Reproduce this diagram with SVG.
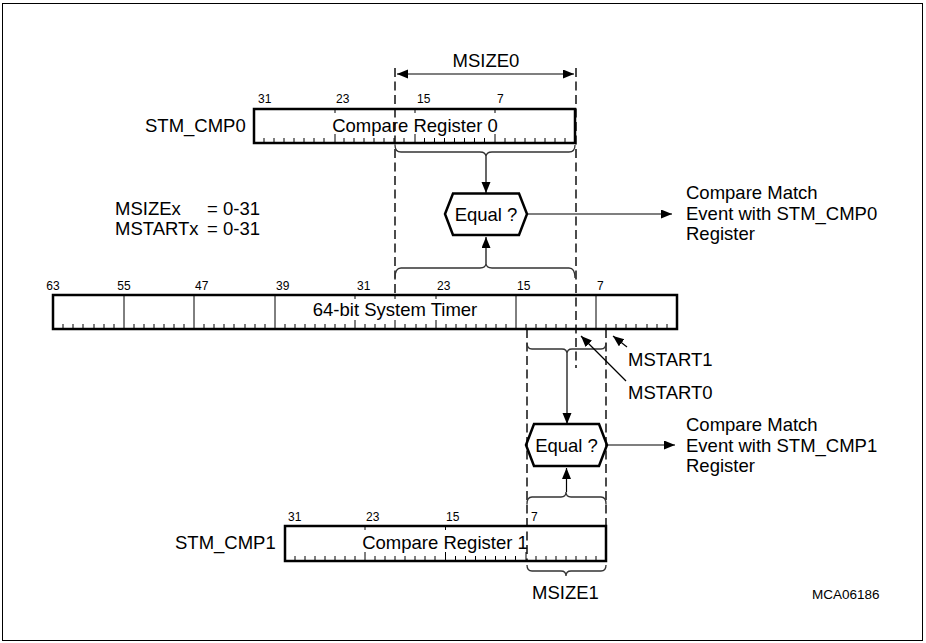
<svg xmlns="http://www.w3.org/2000/svg" width="926" height="643" viewBox="0 0 926 643">
<defs>
<style>
text{font-family:"Liberation Sans",Arial,sans-serif;fill:#000}
.t{font-size:18.5px}
.b{font-size:12px}
.s{font-size:13.5px}
.box{fill:#fff;stroke:#000;stroke-width:2.5}
.thin{fill:none;stroke:#000;stroke-width:1}
.tick{fill:none;stroke:#000;stroke-width:1}
.dash{fill:none;stroke:#000;stroke-width:1.4;stroke-dasharray:9 4.5}
.brace{fill:none;stroke:#333;stroke-width:1.3}
.hex{fill:#fff;stroke:#000;stroke-width:2.5}
.line{fill:none;stroke:#000;stroke-width:1.2}
</style>
<marker id="ah" markerUnits="userSpaceOnUse" markerWidth="12" markerHeight="10" refX="11" refY="4.5" orient="auto-start-reverse">
<path d="M0,0 L11,4.5 L0,9 Z" fill="#000"/>
</marker>
</defs>
<rect id="frame" x="2.5" y="3.5" width="920" height="637" fill="none" stroke="#000" stroke-width="1"/>

<g id="stm_cmp0">
<rect class="box" x="254" y="109" width="321" height="34"/>
<path class="tick" d="M264,143v-5M274,143v-5M284,143v-5M294,143v-5M304,143v-5M314,143v-5M324,143v-5M344,143v-5M354,143v-5M364,143v-5M374,143v-5M384,143v-5M394,143v-5M404,143v-5M424.5,143v-5M434.5,143v-5M444.5,143v-5M454.5,143v-5M464.5,143v-5M474.5,143v-5M484.5,143v-5M505,143v-5M515,143v-5M525,143v-5M535,143v-5M545,143v-5M555,143v-5M565,143v-5"/>
<path class="tick" d="M335,109v4M335,143v-9M415,109v4M415,143v-9M495,109v4M495,143v-9"/>
<text class="b" x="258" y="103">31</text>
<text class="b" x="336" y="103">23</text>
<text class="b" x="417" y="103">15</text>
<text class="b" x="497" y="103">7</text>
<text class="t" x="415" y="132" text-anchor="middle">Compare Register 0</text>
<text class="t" x="145" y="132">STM_CMP0</text>
</g>

<g id="timer">
<rect class="box" x="53" y="295" width="624" height="34"/>
<path class="thin" d="M124,295V329M194,295V329M275,295V329M516,295V329M596,295V329"/>
<path class="tick" d="M63,329v-5M73,329v-5M83,329v-5M94,329v-5M104,329v-5M114,329v-5M134,329v-5M144,329v-5M154,329v-5M164,329v-5M174,329v-5M184,329v-5M204,329v-5M214,329v-5M224,329v-5M234,329v-5M245,329v-5M255,329v-5M265,329v-5M285,329v-5M295,329v-5M305,329v-5M315,329v-5M325,329v-5M335,329v-5M345,329v-5M365,329v-5M375,329v-5M385,329v-5M405,329v-5M416,329v-5M426,329v-5M446,329v-5M456,329v-5M466,329v-5M476,329v-5M486,329v-5M496,329v-5M506,329v-5M526,329v-5M536,329v-5M546,329v-5M556,329v-5M566,329v-5M586,329v-5M606,329v-5M616,329v-5M626,329v-5M636,329v-5M647,329v-5M657,329v-5M667,329v-5"/>
<path class="tick" d="M355,295v4M355,329v-9M395,295v4M395,329v-9M436,295v4M436,329v-9"/>
<text class="b" x="53" y="290" text-anchor="middle">63</text>
<text class="b" x="124" y="290" text-anchor="middle">55</text>
<text class="b" x="195" y="290">47</text>
<text class="b" x="276" y="290">39</text>
<text class="b" x="357" y="290">31</text>
<text class="b" x="437" y="290">23</text>
<text class="b" x="517" y="290">15</text>
<text class="b" x="597" y="290">7</text>
<text class="t" x="395" y="316" text-anchor="middle">64-bit System Timer</text>
</g>

<g id="stm_cmp1">
<rect class="box" x="285" y="526" width="321" height="35"/>
<path class="tick" d="M295,561v-5M305,561v-5M315,561v-5M325,561v-5M335,561v-5M345,561v-5M355,561v-5M375,561v-5M385,561v-5M395,561v-5M405,561v-5M415,561v-5M425,561v-5M435,561v-5M455.5,561v-5M465.5,561v-5M475.5,561v-5M485.5,561v-5M495.5,561v-5M505.5,561v-5M515.5,561v-5M536,561v-5M546,561v-5M556,561v-5M566,561v-5M576,561v-5M586,561v-5M596,561v-5"/>
<path class="tick" d="M365,526v4M365,561v-9M445.5,526v4M445.5,561v-9M526,561v-9"/>
<text class="b" x="288" y="521">31</text>
<text class="b" x="366" y="521">23</text>
<text class="b" x="446" y="521">15</text>
<text class="b" x="531" y="521">7</text>
<text class="t" x="445" y="549" text-anchor="middle">Compare Register 1</text>
<text class="t" x="175" y="549">STM_CMP1</text>
</g>

<g id="equal0">
<polygon class="hex" points="445,214 453,193.5 519,193.5 527,214 519,235 453,235"/>
<text class="t" x="486" y="220.5" text-anchor="middle">Equal ?</text>
</g>

<g id="equal1">
<polygon class="hex" points="526,445 534,424 599,424 607,445 599,466 534,466"/>
<text class="t" x="566.5" y="451.5" text-anchor="middle">Equal ?</text>
</g>

<g id="labels">
<text class="t" x="486" y="67" text-anchor="middle">MSIZE0</text>
<text class="t" x="115" y="215">MSIZEx<tspan x="207">= 0-31</tspan></text>
<text class="t" x="115" y="235">MSTARTx <tspan x="207">= 0-31</tspan></text>
<text class="t" x="686" y="199">Compare Match</text>
<text class="t" x="686" y="220">Event with STM_CMP0</text>
<text class="t" x="686" y="240">Register</text>
<text class="t" x="686" y="431">Compare Match</text>
<text class="t" x="686" y="452">Event with STM_CMP1</text>
<text class="t" x="686" y="472">Register</text>
<text class="t" x="628" y="366">MSTART1</text>
<text class="t" x="628" y="399">MSTART0</text>
<text class="t" x="565.5" y="599" text-anchor="middle">MSIZE1</text>
<text class="s" x="812" y="599">MCA06186</text>
</g>

<g id="connectors">
<path class="dash" d="M395,68V295M576,68V368M527,329V561M606,329V526"/>
<path class="brace" d="M395,145Q395,152 401,152H480Q486,152 486,157Q486,152 492,152H569Q575,152 575,145"/>
<path class="brace" d="M395,278Q395,268 401,268H480Q486,268 486,263Q486,268 492,268H569Q575,268 575,278"/>
<path class="brace" d="M527,343Q527,349 532,349H562Q567,349 567,354Q567,349 572,349H601Q606,349 606,343"/>
<path class="brace" d="M527,504Q527,497 532,497H561Q566,497 566,492Q566,497 571,497H601Q606,497 606,504"/>
<path class="brace" d="M527,565Q527,571 532,571H561Q566,571 566,576Q566,571 571,571H601Q606,571 606,565"/>
<line class="line" x1="397" y1="74" x2="574" y2="74" marker-start="url(#ah)" marker-end="url(#ah)"/>
<line class="line" x1="486" y1="157" x2="486" y2="193" marker-end="url(#ah)"/>
<line class="line" x1="486" y1="263" x2="486" y2="237" marker-end="url(#ah)"/>
<line class="line" x1="527" y1="214" x2="672" y2="214" marker-end="url(#ah)"/>
<line class="line" x1="567" y1="354" x2="567" y2="424" marker-end="url(#ah)"/>
<line class="line" x1="566.5" y1="492" x2="566.5" y2="468" marker-end="url(#ah)"/>
<line class="line" x1="607" y1="445" x2="675" y2="445" marker-end="url(#ah)"/>
<line class="line" x1="626" y1="381" x2="581" y2="336" marker-end="url(#ah)"/>
<line class="line" x1="627" y1="347" x2="613" y2="336" marker-end="url(#ah)"/>
</g>
</svg>
